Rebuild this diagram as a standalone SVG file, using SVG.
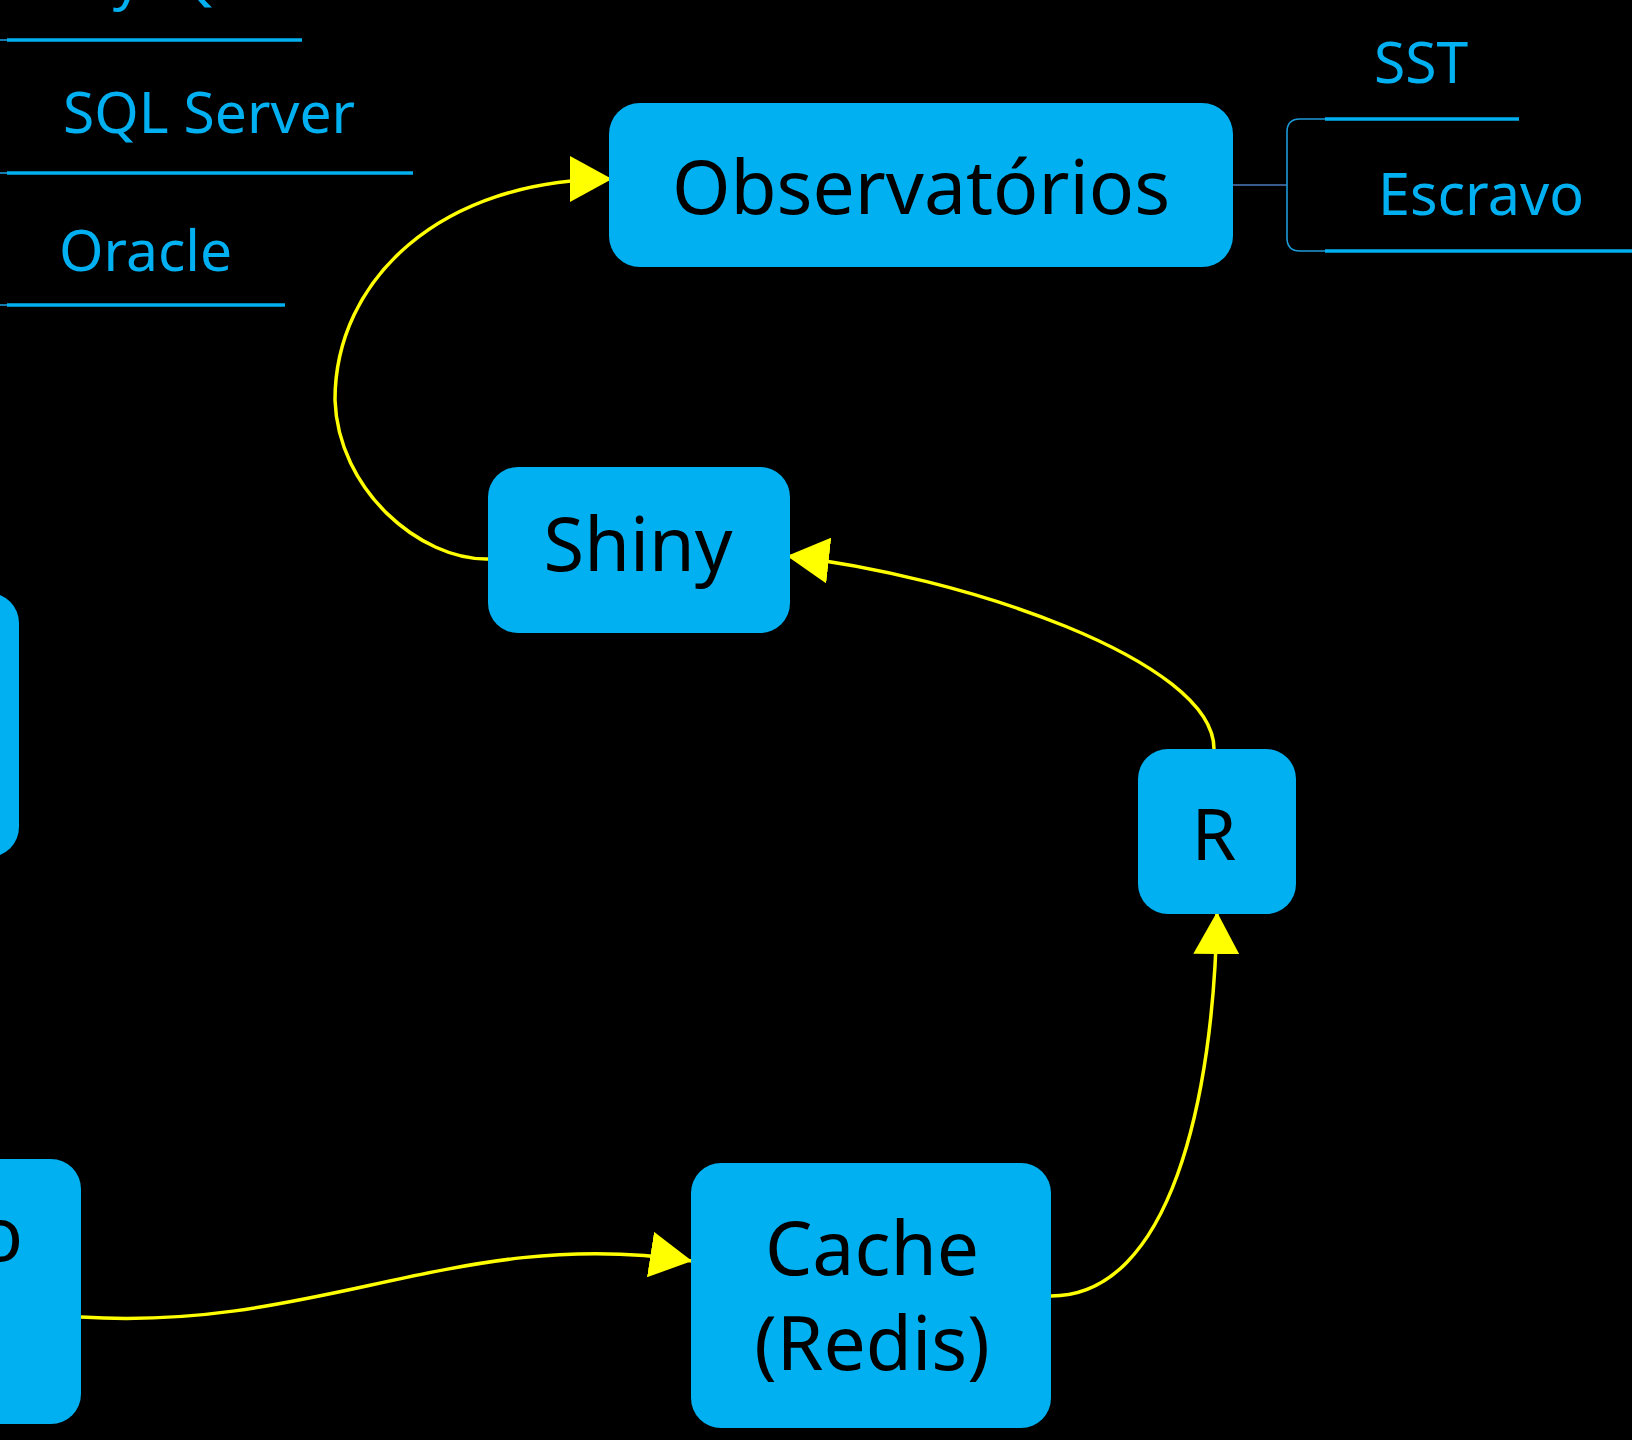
<svg xmlns="http://www.w3.org/2000/svg" width="1632" height="1440" viewBox="0 0 1632 1440">
<style>
.box{fill:#00b0f0;}
.lbl{font-family:"Noto Sans","Open Sans",sans-serif;fill:#000;text-anchor:middle;}
.br{font-family:"Noto Sans","Open Sans",sans-serif;fill:#00b0f0;font-size:57px;}
.ul{stroke:#00b0f0;stroke-width:3.5;fill:none;}
.thin{stroke:#1c9ad8;stroke-width:1.6;fill:none;}
.edge{stroke:#ffff00;stroke-width:3.5;fill:none;marker-end:url(#arr);}
</style>
<defs>
<marker id="arr" markerUnits="userSpaceOnUse" markerWidth="42" markerHeight="46" refX="42" refY="23" orient="auto" viewBox="0 0 42 46">
<path d="M0,0 L42,23 L0,46 Z" fill="#ffff00"/>
</marker>
</defs>
<rect width="1632" height="1440" fill="#000"/>

<g id="branches-left">
<text class="br" x="61" y="-2">MySQL</text>
<line class="thin" x1="0" y1="40" x2="8" y2="40"/>
<line class="ul" x1="7" y1="40" x2="302" y2="40"/>
<text class="br" x="63" y="133">SQL Server</text>
<line class="thin" x1="0" y1="173" x2="8" y2="173"/>
<line class="ul" x1="7" y1="173" x2="413" y2="173"/>
<text class="br" x="59" y="271">Oracle</text>
<line class="thin" x1="0" y1="305" x2="8" y2="305"/>
<line class="ul" x1="7" y1="305" x2="285" y2="305"/>
</g>

<g id="branches-right">
<path d="M1233,185 L1287,185" stroke="#4a7ab8" stroke-width="1.6" fill="none"/>
<path class="thin" d="M1325,119 L1300,119 Q1287,119 1287,132 L1287,238 Q1287,251 1300,251 L1325,251"/>
<text class="br" x="1374" y="83">SST</text>
<line class="ul" x1="1325" y1="119" x2="1519" y2="119"/>
<text class="br" x="1378" y="215" style="font-size:57.5px">Escravo</text>
<line class="ul" x1="1325" y1="251" x2="1632" y2="251"/>
</g>

<g id="connectors">
<path class="edge" d="M81,1317 C320,1332 460,1225 692,1261"/>
<path class="edge" d="M1051,1296 C1170,1296 1214,1100 1217,912"/>
<path class="edge" d="M1214,749 C1214,660 960,575 787,556"/>
<path class="edge" d="M488,559 C420,560 338,490 335,400 C335,280 440,179 612,179"/>
</g>

<g id="node-left1">
<rect class="box" x="-300" y="593" width="319" height="264" rx="30"/>
</g>

<g id="node-left2">
<rect class="box" x="-300" y="1159" width="381" height="265" rx="30"/>
<text class="lbl" x="23" y="1261" style="font-size:74px;text-anchor:end">o</text>
</g>

<g id="node-observatorios">
<rect class="box" x="609" y="103" width="624" height="164" rx="31"/>
<text class="lbl" x="921" y="214" style="font-size:75px">Observatórios</text>
</g>

<g id="node-shiny">
<rect class="box" x="488" y="467" width="302" height="166" rx="30"/>
<text class="lbl" x="638" y="571" style="font-size:74px">Shiny</text>
</g>

<g id="node-r">
<rect class="box" x="1138" y="749" width="158" height="165" rx="30"/>
<text class="lbl" x="1214" y="860" style="font-size:72px">R</text>
</g>

<g id="node-cache">
<rect class="box" x="691" y="1163" width="360" height="265" rx="30"/>
<text class="lbl" x="872" y="1275" style="font-size:75px">Cache</text>
<text class="lbl" x="872" y="1370" style="font-size:75px">(Redis)</text>
</g>
</svg>
